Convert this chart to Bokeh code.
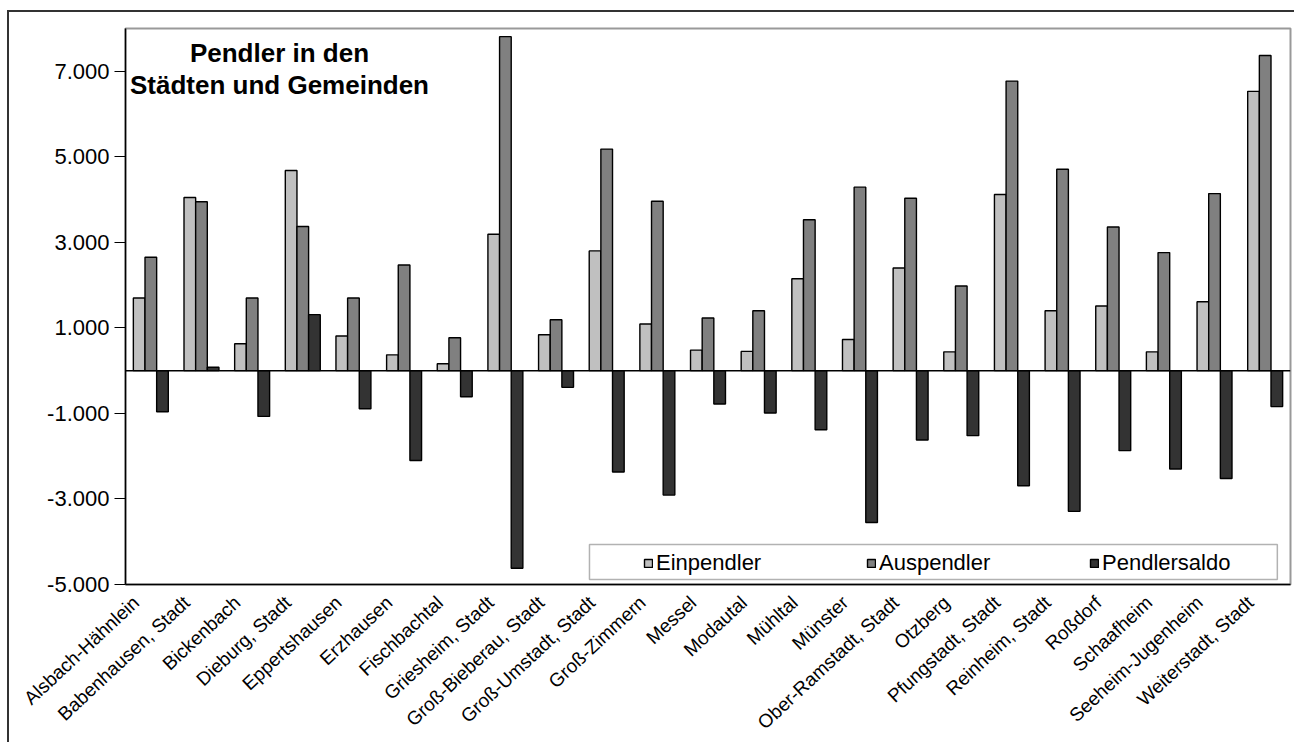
from bokeh.plotting import figure
from bokeh.models import (Range1d, FixedTicker, Legend, LegendItem,
                          Label, BoxAnnotation, Span, ColumnDataSource, LinearAxis, LinearScale)
from bokeh.transform import dodge
from bokeh.embed import file_html
from bokeh.resources import INLINE

# ---------------- data ----------------
cities = ["Alsbach-Hähnlein", "Babenhausen, Stadt", "Bickenbach", "Dieburg, Stadt",
          "Eppertshausen", "Erzhausen", "Fischbachtal", "Griesheim, Stadt",
          "Groß-Bieberau, Stadt", "Groß-Umstadt, Stadt", "Groß-Zimmern", "Messel",
          "Modautal", "Mühltal", "Münster", "Ober-Ramstadt, Stadt", "Otzberg",
          "Pfungstadt, Stadt", "Reinheim, Stadt", "Roßdorf", "Schaafheim",
          "Seeheim-Jugenheim", "Weiterstadt, Stadt"]
einpendler = [1700, 4050, 630, 4680, 810, 370, 160, 3190, 840, 2800, 1090, 480,
              450, 2150, 730, 2400, 440, 4120, 1400, 1510, 440, 1610, 6530]
auspendler = [2650, 3950, 1700, 3370, 1700, 2470, 770, 7810, 1190, 5180, 3960, 1230,
              1400, 3530, 4290, 4030, 1980, 6770, 4710, 3360, 2760, 4140, 7370]
pendlersaldo = [-960, 80, -1070, 1310, -890, -2100, -610, -4620, -390, -2370, -2910, -780,
                -990, -1380, -3550, -1620, -1520, -2690, -3290, -1870, -2300, -2520, -840]
series_names = ["Einpendler", "Auspendler", "Pendlersaldo"]
y_ticks = [-5000, -3000, -1000, 1000, 3000, 5000, 7000]
title_lines = ["Pendler in den", "Städten und Gemeinden"]

FONT = "Liberation Sans"
colors = ["#c0c0c0", "#808080", "#333333"]

n = len(cities)
centers = [i + 0.5 for i in range(n)]   # category slot centres
source = ColumnDataSource(dict(city=cities, xc=centers, ein=einpendler,
                               aus=auspendler, saldo=pendlersaldo))

label_shift = 0.29  # category labels sit slightly left of the group centre
p = figure(width=1287, height=732, output_backend="svg", toolbar_location=None,
           x_range=Range1d(0, n), y_range=Range1d(-5000, 8000), x_axis_location=None,
           min_border_left=116, min_border_top=16, min_border_right=6, min_border_bottom=160)
p.styles = {"margin-left": "7px", "margin-top": "10px",
            "border-left": "2px solid #333333", "border-top": "2px solid #333333"}
p.extra_x_ranges = {"labels": Range1d(label_shift, n + label_shift)}
p.extra_x_scales = {"labels": LinearScale()}

p.xgrid.grid_line_color = None
p.ygrid.grid_line_color = None
p.outline_line_color = "#999999"
p.outline_line_width = 2

bw = 0.23
fields = ["ein", "aus", "saldo"]
offsets = [-bw, 0.0, bw]
renderers = []
for f, off, c in zip(fields, offsets, colors):
    r = p.vbar(x=dodge("xc", off), top=f, bottom=0, width=bw,
               source=source, fill_color=c, line_color="black", line_width=1.4)
    renderers.append(r)

p.add_layout(Span(location=0, dimension="width", line_color="black", line_width=1.5))

# y axis
p.yaxis.ticker = FixedTicker(ticks=y_ticks)
p.yaxis.major_label_overrides = {t: f"{t:,}".replace(",", ".") for t in y_ticks}
p.yaxis.major_tick_out = 11
p.yaxis.major_tick_in = 0
p.yaxis.minor_tick_line_color = None
p.yaxis.axis_line_color = "black"
p.yaxis.axis_line_width = 1.5
p.yaxis.major_tick_line_color = "black"
p.yaxis.major_label_text_font = FONT
p.yaxis.major_label_text_font_size = "22px"
p.yaxis.major_label_text_color = "black"
p.yaxis.major_label_standoff = 5

# x axis with the municipality names
xaxis = LinearAxis(x_range_name="labels", ticker=FixedTicker(ticks=centers),
                   major_label_overrides={t: c for t, c in zip(centers, cities)})
xaxis.major_label_orientation = 0.75
xaxis.major_tick_line_color = None
xaxis.minor_tick_line_color = None
xaxis.axis_line_color = "black"
xaxis.axis_line_width = 1.5
xaxis.major_label_text_font = FONT
xaxis.major_label_text_font_size = "19px"
xaxis.major_label_text_color = "black"
xaxis.major_label_standoff = 9
p.add_layout(xaxis, "below")

# legend box and legend
p.add_layout(BoxAnnotation(left=9.16, right=22.74, bottom=-4883, top=-4065,
                           fill_color="white", fill_alpha=1.0,
                           line_color="black", line_width=1.5))
legend = Legend(items=[LegendItem(label=s, renderers=[r]) for s, r in zip(series_names, renderers)],
                orientation="horizontal", location=(518, 8), margin=0, padding=0,
                spacing=0, label_width=210, glyph_width=10, glyph_height=10,
                label_standoff=3, border_line_color=None, background_fill_alpha=0,
                label_text_font=FONT, label_text_font_size="22px", label_text_color="black")
p.add_layout(legend)

# title inside the plot
for txt, yy in zip(title_lines, [7420, 6690]):
    p.add_layout(Label(x=3.04, y=yy, text=txt, text_align="center", text_baseline="alphabetic",
                       text_font=FONT, text_font_style="bold", text_font_size="26px",
                       text_color="black"))

open("out.html", "w").write(file_html(p, INLINE))
